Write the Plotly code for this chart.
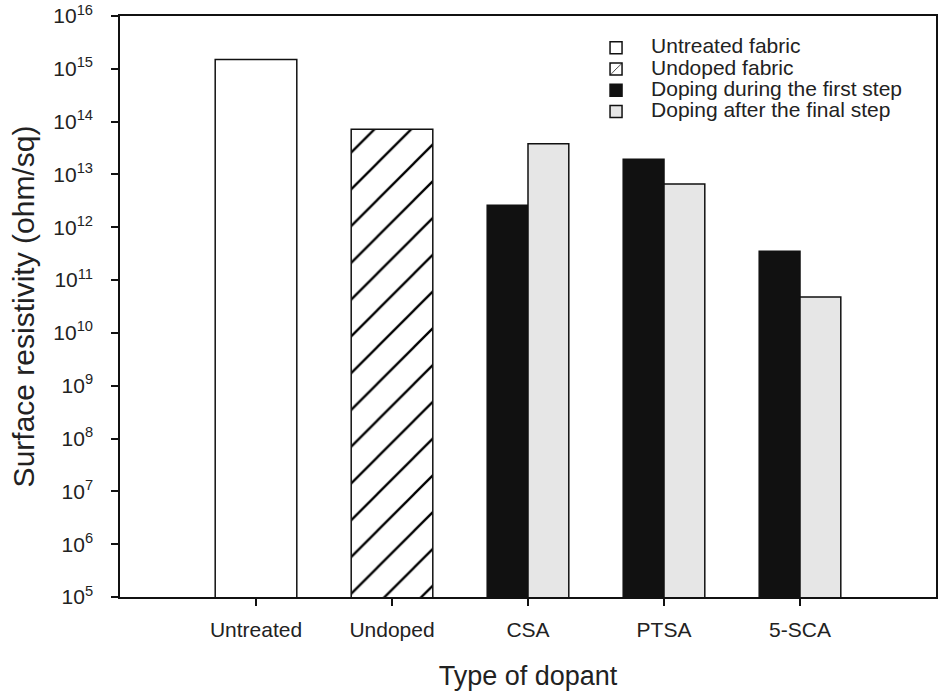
import plotly.graph_objects as go

categories = ["Untreated", "Undoped", "CSA", "PTSA", "5-SCA"]
untreated_vals = [1.5e15]
undoped_vals = [7.2e13]
dopants = ["CSA", "PTSA", "5-SCA"]
first_step_vals = [2.6e12, 1.95e13, 3.5e11]
final_step_vals = [3.8e13, 6.6e12, 4.8e10]
ytick_exps = list(range(5, 17))
legend_names = ["Untreated fabric", "Undoped fabric",
                "Doping during the first step", "Doping after the final step"]

FONT = "Liberation Sans, Arial, sans-serif"
line = dict(color="#111", width=1.5)


def big(name):
    return f'<span style="font-size:21px">{name}</span>'


fig = go.Figure()
fig.add_bar(name=big(legend_names[0]), x=["Untreated"], y=untreated_vals,
            width=0.6, marker=dict(color="white", line=line))
fig.add_bar(name=big(legend_names[1]), x=["Undoped"], y=undoped_vals,
            width=0.6, marker=dict(color="white", line=line,
                                   pattern=dict(shape="/", size=26, solidity=0.09,
                                                fgcolor="#000", bgcolor="white",
                                                fgopacity=1, fillmode="replace")))
fig.add_bar(name=big(legend_names[2]), x=dopants, y=first_step_vals,
            width=0.3, offset=-0.3, marker=dict(color="#111", line=line))
fig.add_bar(name=big(legend_names[3]), x=dopants, y=final_step_vals,
            width=0.3, offset=0.0, marker=dict(color="#e6e6e6", line=line))

fig.update_layout(
    width=939, height=696,
    margin=dict(l=120, r=1, t=16, b=99),
    paper_bgcolor="white", plot_bgcolor="white",
    barmode="overlay",
    font=dict(family=FONT, size=21, color="#222"),
    legend=dict(x=0.565, y=0.972, xanchor="left", yanchor="top",
                bgcolor="rgba(0,0,0,0)", borderwidth=0,
                font=dict(size=14, color="#222"),
                tracegroupgap=0, itemwidth=60),
    xaxis=dict(type="category", categoryorder="array", categoryarray=categories,
               range=[-1, 5], showline=True, linecolor="#111", linewidth=1.5,
               mirror=True, ticks="outside", ticklen=7, tickcolor="#111",
               tickwidth=1.5, showgrid=False, zeroline=False,
               tickfont=dict(size=21), ticklabelstandoff=6,
               title=dict(text="Type of dopant", font=dict(size=27), standoff=26)),
    yaxis=dict(type="log", range=[5, 16], showline=True, linecolor="#111",
               linewidth=1.5, mirror=True, ticks="outside", ticklen=7,
               tickcolor="#111", tickwidth=1.5, showgrid=False, zeroline=False,
               tickvals=[10 ** e for e in ytick_exps],
               ticktext=[f"10<sup>{e}</sup>" for e in ytick_exps],
               tickfont=dict(size=21), ticklabelstandoff=14,
               title=dict(text="Surface resistivity (ohm/sq)", font=dict(size=30),
                          standoff=10)),
)

fig.write_html("out.html")
